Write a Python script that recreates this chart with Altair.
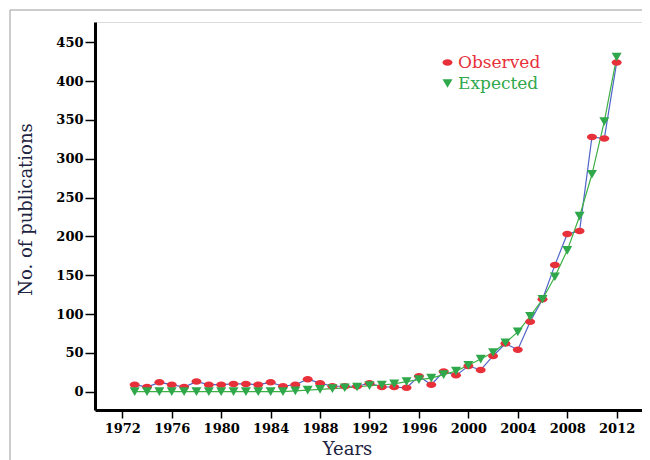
import altair as alt
import pandas as pd

years = list(range(1973, 2013))
observed = [9, 6, 12, 9, 6, 13, 9, 9, 10, 10, 9, 12, 7, 9, 16, 11, 7, 7, 7, 11,
            6, 6, 5, 20, 9, 26, 21, 33, 28, 46, 62, 54, 90, 119, 163, 203, 207, 328, 326, 424]
expected = [0, 0, 0, 0, 0, 0, 0, 0, 0, 0, 0, 0, 0, 1, 2, 3, 4, 5, 6, 7.7,
            8.6, 10, 13, 15.5, 17.5, 22, 26.5, 34, 42, 50.5, 63, 77, 97, 119, 148, 182, 226, 280, 348, 431]
series_names = ["Observed", "Expected"]
series_colors = ["#e8303a", "#2ea84a"]
line_colors = ["#4f64c8", "#3cb043"]
x_ticks = list(range(1972, 2013, 4))
y_ticks = list(range(0, 451, 50))

df = pd.DataFrame({
    "Year": years + years,
    "Count": observed + expected,
    "Series": ["Observed"] * len(years) + ["Expected"] * len(years),
})

ELLIPSE = "M -1 0 A 1 0.65 0 1 1 1 0 A 1 0.65 0 1 1 -1 0 Z"

xscale = alt.Scale(domain=[1969.79, 2014.05], nice=False, zero=False)
yscale = alt.Scale(domain=[-23.6, 476.1], nice=False, zero=False)

xaxis = alt.Axis(values=x_ticks, format="d", title="Years", grid=False,
                 domainWidth=3, domainColor="black", tickColor="black", tickWidth=1.5,
                 tickSize=8, labelFont="DejaVu Serif", labelFontWeight="bold",
                 labelFontSize=13, labelColor="black", labelPadding=4,
                 titleFont="DejaVu Serif", titleFontSize=18, titleFontWeight="normal",
                 titleColor="#1c2340", titleX=252, titleY=44, titleAlign="center",
                 titleBaseline="alphabetic", labelOverlap=False)
yaxis = alt.Axis(values=y_ticks, title="No. of publications", grid=False,
                 domainWidth=3, domainColor="black", tickColor="black", tickWidth=1.5,
                 tickSize=10, labelFont="DejaVu Serif", labelFontWeight="bold",
                 labelFontSize=13, labelColor="black", labelPadding=2,
                 titleFont="DejaVu Serif", titleFontSize=18, titleFontWeight="normal",
                 titleColor="#1c2340", titleX=-64, titleY=187, titleAngle=270,
                 titleAlign="center", titleBaseline="alphabetic", labelOverlap=False)

base = alt.Chart(df)

frame = alt.Chart(pd.DataFrame({"a": [0]})).mark_rect(
    filled=False, stroke="#9a9a9a", strokeWidth=1
).encode(x=alt.value(-85), x2=alt.value(600), y=alt.value(-12), y2=alt.value(470))

obs_line = base.transform_filter(alt.datum.Series == "Observed").mark_line(
    color=line_colors[0], strokeWidth=1.2
).encode(x=alt.X("Year:Q", scale=xscale, axis=xaxis), y=alt.Y("Count:Q", scale=yscale, axis=yaxis))

exp_line = base.transform_filter(alt.datum.Series == "Expected").mark_line(
    color=line_colors[1], strokeWidth=1.2
).encode(x=alt.X("Year:Q", scale=xscale, axis=xaxis), y=alt.Y("Count:Q", scale=yscale, axis=yaxis))

legend = alt.Legend(orient="none", legendX=344, legendY=32, title=None,
                    labelFont="DejaVu Serif", labelFontSize=17, symbolSize=100,
                    labelColor={"expr": "datum.label == 'Observed' ? '#e8303a' : '#2ea84a'"},
                    rowPadding=3, labelOffset=2, symbolStrokeWidth=0)

points = base.mark_point(filled=True, size=100, opacity=1).encode(
    x=alt.X("Year:Q", scale=xscale, axis=xaxis),
    y=alt.Y("Count:Q", scale=yscale, axis=yaxis),
    color=alt.Color("Series:N", scale=alt.Scale(domain=series_names, range=series_colors), legend=legend),
    shape=alt.Shape("Series:N", scale=alt.Scale(domain=series_names, range=[ELLIPSE, "triangle-down"]), legend=legend),
)

chart = alt.layer(frame, obs_line, exp_line, points).properties(
    width=547, height=388,
    autosize=alt.AutoSizeParams(type="none"),
    padding={"left": 87, "top": 14, "right": 0, "bottom": 50},
).configure_view(stroke=None).configure(background="white")

chart.save("out.html", embed_options={"renderer": "svg", "actions": False})
